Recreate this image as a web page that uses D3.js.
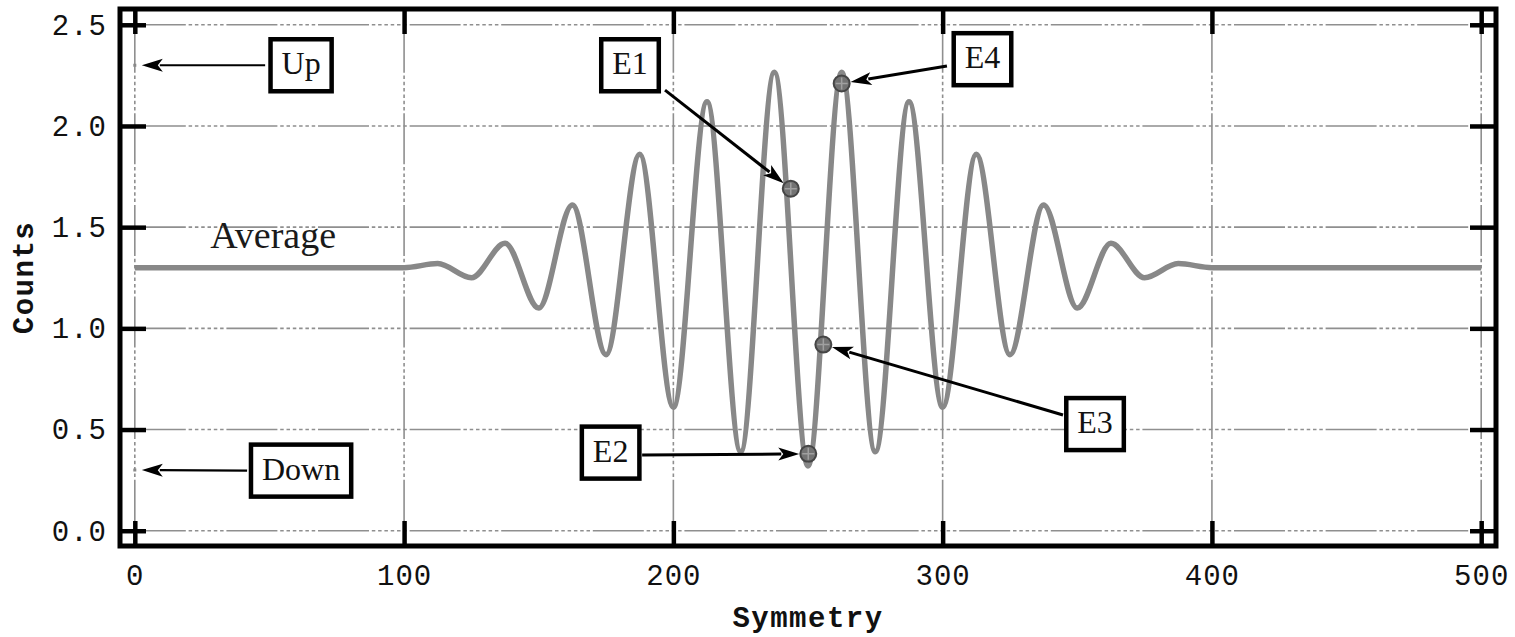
<!DOCTYPE html>
<html>
<head>
<meta charset="utf-8">
<script src="https://cdn.jsdelivr.net/npm/d3@7"></script>
<style>
  html, body { margin: 0; padding: 0; background: #fff; }
  svg { display: block; }
</style>
</head>
<body>
<svg id="chart" width="1515" height="637"></svg>
<script>
// Counts against symmetry: flat at the 1.3 average, oscillating between ~100 and ~400.
// The series is given at its turning points; the monotone curve joins them smoothly.
const symmetry = [0, 100, 112.5, 125, 137.5, 150, 162.5, 175, 187.5, 200, 212.5, 225, 237.5,
                  250, 262.5, 275, 287.5, 300, 312.5, 325, 337.5, 350, 362.5, 375, 387.5, 400, 500];
const counts   = [1.30, 1.30, 1.32, 1.25, 1.42, 1.10, 1.61, 0.87, 1.86, 0.61, 2.12, 0.39, 2.265,
                  0.32, 2.265, 0.39, 2.12, 0.61, 1.86, 0.87, 1.61, 1.10, 1.42, 1.25, 1.32, 1.30, 1.30];

// Marked events on the curve
const eventLabels   = ["E1", "E2", "E3", "E4"];
const eventSymmetry = [243.6, 250.1, 255.7, 262.5];
const eventCounts   = [1.69, 0.38, 0.92, 2.21];

// Reference levels on the left edge
const levelLabels   = ["Up", "Down"];
const levelSymmetry = [0, 0];
const levelCounts   = [2.3, 0.3];

// Axis ticks
const xTicks = [0, 100, 200, 300, 400, 500];
const yTicks = [0, 0.5, 1.0, 1.5, 2.0, 2.5];

// Callout placement (data units): where each label box sits and where its arrow starts
const calloutLayout = {
  "Up":   { box: [61.75, 2.300], tail: [48.4, 2.300], gap: 7 },
  "Down": { box: [61.75, 0.297], tail: [41.7, 0.297], gap: 7 },
  "E1":   { box: [183.9, 2.300], tail: [196.9, 2.177], gap: 9 },
  "E2":   { box: [176.7, 0.386], tail: [188.4, 0.374], gap: 9 },
  "E3":   { box: [356.6, 0.527], tail: [344.7, 0.572], gap: 9 },
  "E4":   { box: [314.8, 2.330], tail: [301.6, 2.296], gap: 9 }
};
const averageText = { text: "Average", at: [28, 1.397] };

// ---- layout ----
const frame = { left: 120, right: 1496, top: 9, bottom: 546 };
const svg = d3.select("#chart");

const x = d3.scaleLinear().domain([-5.5, 505.5]).range([frame.left, frame.right]);
const y = d3.scaleLinear().domain([-0.0755, 2.578]).range([frame.bottom, frame.top]);

const monoFont = "'Liberation Mono', 'Courier New', monospace";
const serifFont = "'Liberation Serif', 'Times New Roman', serif";
const gridColor = "#8f8f8f";
const gridDash = "51 2.8 3.5 2.8 3.5 2.8 3.5 2.8 3.5 2.8 3.5 2.8 3.5 2.8";

// ---- grid ----
const grid = svg.append("g").attr("class", "grid");
grid.selectAll("line.h").data(yTicks).join("line")
  .attr("class", "h")
  .attr("x1", frame.left).attr("x2", frame.right)
  .attr("y1", d => y(d)).attr("y2", d => y(d))
  .attr("stroke", gridColor).attr("stroke-width", 1.6)
  .attr("stroke-dasharray", gridDash)
  .attr("stroke-dashoffset", -(x(0) - frame.left));
grid.selectAll("line.v").data(xTicks).join("line")
  .attr("class", "v")
  .attr("x1", d => x(d)).attr("x2", d => x(d))
  .attr("y1", frame.bottom).attr("y2", frame.top)
  .attr("stroke", gridColor).attr("stroke-width", 1.6)
  .attr("stroke-dasharray", gridDash)
  .attr("stroke-dashoffset", -(frame.bottom - y(0)));

// ---- curve ----
const line = d3.line()
  .x(d => x(d[0]))
  .y(d => y(d[1]))
  .curve(d3.curveMonotoneX);
svg.append("path")
  .datum(d3.zip(symmetry, counts))
  .attr("d", line)
  .attr("fill", "none")
  .attr("stroke", "#888888")
  .attr("stroke-width", 5.5)
  .attr("stroke-linejoin", "round");

// ---- frame ----
svg.append("rect")
  .attr("x", frame.left).attr("y", frame.top)
  .attr("width", frame.right - frame.left).attr("height", frame.bottom - frame.top)
  .attr("fill", "none").attr("stroke", "#000").attr("stroke-width", 5);

// ---- axes (ticks point inward on all four sides) ----
const tickLen = 25;
function styleAxis(g) {
  g.select(".domain").remove();
  g.selectAll(".tick line").attr("stroke", "#000").attr("stroke-width", 4.5);
  g.selectAll(".tick text")
    .attr("font-family", monoFont).attr("font-size", 29)
    .attr("fill", "#111").attr("letter-spacing", "1px");
}
svg.append("g")
  .attr("transform", `translate(0,${frame.bottom})`)
  .call(d3.axisBottom(x).tickValues(xTicks).tickSizeInner(-tickLen).tickSizeOuter(0)
        .tickPadding(18).tickFormat(d3.format("d")))
  .call(styleAxis);
svg.append("g")
  .attr("transform", `translate(0,${frame.top})`)
  .call(d3.axisTop(x).tickValues(xTicks).tickSizeInner(-tickLen).tickSizeOuter(0).tickFormat(""))
  .call(styleAxis);
svg.append("g")
  .attr("transform", `translate(${frame.left},0)`)
  .call(d3.axisLeft(y).tickValues(yTicks).tickSizeInner(-tickLen - 1).tickSizeOuter(0)
        .tickPadding(13).tickFormat(d3.format(".1f")))
  .call(styleAxis);
svg.append("g")
  .attr("transform", `translate(${frame.right},0)`)
  .call(d3.axisRight(y).tickValues(yTicks).tickSizeInner(-tickLen - 1).tickSizeOuter(0).tickFormat(""))
  .call(styleAxis);

// ---- axis titles ----
svg.append("text")
  .attr("x", (frame.left + frame.right) / 2).attr("y", 627)
  .attr("text-anchor", "middle")
  .attr("font-family", monoFont).attr("font-weight", "bold").attr("font-size", 29)
  .attr("letter-spacing", "1.5px").attr("fill", "#111")
  .text("Symmetry");
svg.append("text")
  .attr("transform", `translate(33,${(frame.top + frame.bottom) / 2}) rotate(-90)`)
  .attr("text-anchor", "middle")
  .attr("font-family", monoFont).attr("font-weight", "bold").attr("font-size", 29)
  .attr("letter-spacing", "1.5px").attr("fill", "#111")
  .text("Counts");

// ---- "Average" label ----
svg.append("text")
  .attr("x", x(averageText.at[0])).attr("y", y(averageText.at[1]))
  .attr("font-family", serifFont).attr("font-size", 38).attr("fill", "#1a1a1a")
  .text(averageText.text);

// ---- level points ----
const levels = levelLabels.map((label, i) => ({ label, sx: levelSymmetry[i], c: levelCounts[i] }));
svg.append("g").selectAll("rect").data(levels).join("rect")
  .attr("x", d => x(d.sx) - 1.5).attr("y", d => y(d.c) - 1.5)
  .attr("width", 3).attr("height", 3).attr("fill", "#888");

// ---- event markers (circle with cross) ----
const events = eventLabels.map((label, i) => ({ label, sx: eventSymmetry[i], c: eventCounts[i] }));
const markerR = 8;
const mk = svg.append("g").selectAll("g").data(events).join("g")
  .attr("transform", d => `translate(${x(d.sx)},${y(d.c)})`);
mk.append("circle").attr("r", markerR)
  .attr("fill", "#737373").attr("stroke", "#454545").attr("stroke-width", 2);
mk.append("path").attr("d", `M${-markerR + 2},0H${markerR - 2}M0,${-markerR + 2}V${markerR - 2}`)
  .attr("stroke", "#a0a0a0").attr("stroke-width", 1.5);

// ---- callouts: arrow + boxed label ----
const targets = levels.concat(events);
const arrowLen = 21, arrowHalf = 6.5;
const callG = svg.append("g");
targets.forEach(t => {
  const lay = calloutLayout[t.label];
  const tx = x(lay.tail[0]), ty = y(lay.tail[1]);
  const px = x(t.sx), py = y(t.c);
  const dx = px - tx, dy = py - ty, len = Math.hypot(dx, dy);
  const ux = dx / len, uy = dy / len;
  const tipX = px - ux * lay.gap, tipY = py - uy * lay.gap;
  const baseX = tipX - ux * arrowLen, baseY = tipY - uy * arrowLen;
  const isEvent = t.label.startsWith("E");
  callG.append("line")
    .attr("x1", tx).attr("y1", ty).attr("x2", baseX + ux * 3).attr("y2", baseY + uy * 3)
    .attr("stroke", "#000").attr("stroke-width", isEvent ? 3 : 2.2);
  callG.append("path")
    .attr("d", `M${tipX},${tipY}L${baseX - uy * arrowHalf},${baseY + ux * arrowHalf}` +
               `L${baseX + ux * 5},${baseY + uy * 5}L${baseX + uy * arrowHalf},${baseY - ux * arrowHalf}Z`)
    .attr("fill", "#000");

  const bx = x(lay.box[0]), by = y(lay.box[1]);
  const box = callG.append("rect").attr("fill", "#fff").attr("stroke", "#000").attr("stroke-width", 4.5);
  const label = callG.append("text")
    .attr("x", bx).attr("y", by + 9)
    .attr("text-anchor", "middle")
    .attr("font-family", serifFont).attr("font-size", 32).attr("fill", "#111")
    .text(t.label);
  const w = label.node().getComputedTextLength() + 22, h = 52;
  box.attr("x", bx - w / 2).attr("y", by - h / 2).attr("width", w).attr("height", h);
});
</script>
</body>
</html>
